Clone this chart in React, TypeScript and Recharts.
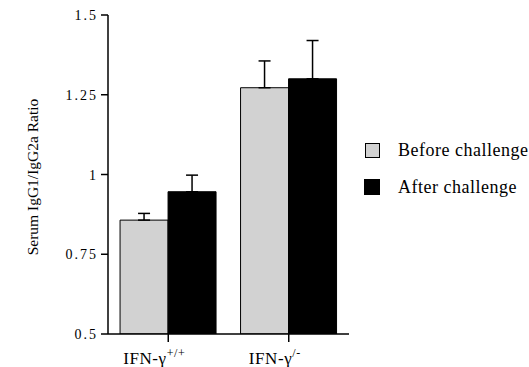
import React from 'react';
import { BarChart, Bar, XAxis, YAxis, ErrorBar, Label } from 'recharts';

const categories = ['IFN-γ+/+', 'IFN-γ-/-'];
const superscripts = ['+/+', '/-'];
const beforeValues = [0.857, 1.272];
const beforeErrors = [0.021, 0.084];
const afterValues = [0.946, 1.3];
const afterErrors = [0.052, 0.12];
const yTicks = [0.5, 0.75, 1, 1.25, 1.5];
const seriesNames = ['Before challenge', 'After challenge'];

const data = categories.map((c, i) => ({
  name: c,
  before: beforeValues[i],
  beforeErr: [0, beforeErrors[i]],
  after: afterValues[i],
  afterErr: [0, afterErrors[i]],
}));

const FONT = '"Liberation Serif", "Times New Roman", serif';

const XTick = (props: any) => {
  const { x, y, index } = props;
  return (
    <text
      x={x - 14}
      y={y + 20}
      textAnchor="middle"
      style={{ fontFamily: FONT, letterSpacing: '0.6px' }}
      fontSize={17}
      fill="#000"
    >
      IFN-γ
      <tspan fontSize={12} dy={-7}>{superscripts[index]}</tspan>
    </text>
  );
};

const YTick = (props: any) => {
  const { x, y, payload } = props;
  return (
    <text
      x={x - 1}
      y={y + 5}
      textAnchor="end"
      style={{ fontFamily: FONT, letterSpacing: '2px' }}
      fontSize={14}
      fill="#000"
    >
      {String(payload.value)}
    </text>
  );
};

const LegendBox = () => (
  <div style={{ position: 'absolute', left: 0, top: 0, width: 529, height: 367, pointerEvents: 'none' }}>
    {seriesNames.map((n, i) => (
      <div
        key={n}
        style={{
          position: 'absolute',
          left: 364,
          top: i === 0 ? 138 : 175,
          height: 24,
          display: 'flex',
          alignItems: 'center',
          fontFamily: FONT,
          fontSize: 18,
          letterSpacing: '0.5px',
          color: '#000',
          whiteSpace: 'nowrap',
        }}
      >
        <div
          style={{
            width: i === 0 ? 13 : 16,
            height: i === 0 ? 13 : 16,
            background: i === 0 ? '#d2d2d2' : '#000',
            border: i === 0 ? '1.5px solid #000' : 'none',
            marginLeft: i === 0 ? 1 : 0,
            marginRight: 18,
          }}
        />
        <span>{n}</span>
      </div>
    ))}
  </div>
);

export default function App() {
  return (
    <div style={{ position: 'absolute', left: 0, top: 0, width: 529, height: 367, background: '#fff' }}>
      <BarChart
        width={529}
        height={367}
        data={data}
        margin={{ top: 15, right: 180, bottom: 0, left: 8 }}
        barCategoryGap="10%"
        barGap={0}
      >
        <XAxis
          dataKey="name"
          tick={<XTick />}
          tickSize={8}
          tickLine={{ stroke: '#000', strokeWidth: 1.5 }}
          axisLine={{ stroke: '#000', strokeWidth: 1.5 }}
          interval={0}
          height={33}
        />
        <YAxis
          domain={[0.5, 1.5]}
          ticks={yTicks}
          width={100}
          tickSize={7}
          tickLine={{ stroke: '#000', strokeWidth: 1.5 }}
          axisLine={{ stroke: '#000', strokeWidth: 1.5 }}
          tick={<YTick />}
          allowDataOverflow
        >
          <Label
            content={() => (
              <text
                x={0}
                y={0}
                transform="translate(38,177) rotate(-90)"
                textAnchor="middle"
                style={{ fontFamily: FONT }}
                fontSize={15.5}
                fill="#000"
              >
                Serum IgG1/IgG2a Ratio
              </text>
            )}
          />
        </YAxis>
        <YAxis
          yAxisId="right"
          orientation="right"
          domain={[0.5, 1.5]}
          width={0}
          tick={false}
          tickLine={false}
          axisLine={{ stroke: '#000', strokeWidth: 1.5 }}
        />
        <XAxis
          xAxisId="top"
          orientation="top"
          dataKey="name"
          height={0}
          tick={false}
          tickLine={false}
          axisLine={{ stroke: '#000', strokeWidth: 1.5 }}
        />
        <Bar dataKey="before" name={seriesNames[0]} fill="#d2d2d2" stroke="#000" strokeWidth={1} isAnimationActive={false}>
          <ErrorBar dataKey="beforeErr" width={6} stroke="#000" strokeWidth={1.5} direction="y" />
        </Bar>
        <Bar dataKey="after" name={seriesNames[1]} fill="#000" stroke="#000" strokeWidth={1} isAnimationActive={false}>
          <ErrorBar dataKey="afterErr" width={6} stroke="#000" strokeWidth={1.5} direction="y" />
        </Bar>
      </BarChart>
      <LegendBox />
    </div>
  );
}
